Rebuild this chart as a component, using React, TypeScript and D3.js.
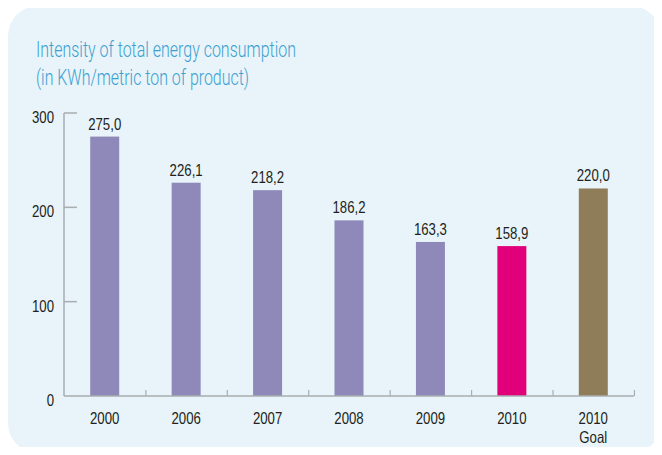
import { useEffect, useRef } from "react";
import * as d3 from "d3";

// chart data
const categories = ["2000", "2006", "2007", "2008", "2009", "2010", "2010 Goal"];
const values = [275.0, 226.1, 218.2, 186.2, 163.3, 158.9, 220.0];
const barColors = ["#8e89b9", "#8e89b9", "#8e89b9", "#8e89b9", "#8e89b9", "#e2007a", "#8f7c58"];
const yTicks = [0, 100, 200, 300];
const titleLines = ["Intensity of total energy consumption", "(in KWh/metric ton of product)"];

const W = 662;
const H = 455;
const FONT = "'Liberation Sans', Arial, sans-serif";
const SQUEEZE = 0.8; // reference uses a condensed face

// squeeze text horizontally, since no condensed font is at hand
function condense(sel: d3.Selection<any, any, any, any>) {
  sel.each(function (this: SVGTextContentElement) {
    const len = this.getComputedTextLength();
    d3.select(this)
      .attr("textLength", len * SQUEEZE)
      .attr("lengthAdjust", "spacingAndGlyphs");
  });
}

export default function App() {
  const ref = useRef<SVGSVGElement>(null);

  useEffect(() => {
    const svg = d3.select(ref.current);
    svg.selectAll("*").remove();

    // background panel
    svg.append("rect")
      .attr("x", 8).attr("y", 6)
      .attr("width", 653).attr("height", 447)
      .attr("rx", 30).attr("ry", 30)
      .attr("fill", "#e8f4f9");

    // title
    const titleLen = [260, 213];
    svg.append("g")
      .selectAll("text")
      .data(titleLines)
      .join("text")
      .attr("x", 36)
      .attr("y", (d, i) => 56.5 + i * 28.5)
      .attr("textLength", (d, i) => titleLen[i])
      .attr("lengthAdjust", "spacingAndGlyphs")
      .attr("font-family", "Roboto, 'Liberation Sans', sans-serif")
      .attr("font-weight", 300)
      .attr("font-size", 21.5)
      .attr("fill", "#3b9fd2")
      .text((d) => d);

    const x = d3.scaleBand<string>()
      .domain(categories)
      .range([64, 634])
      .paddingInner(0.644)
      .paddingOuter(0.322);

    const y = d3.scaleLinear().domain([0, 300]).range([396, 113]);

    const axisColor = "#a9aeb1";
    const step = x.step();

    // y axis line + ticks pointing inward
    svg.append("line")
      .attr("x1", 64).attr("x2", 64)
      .attr("y1", y(300)).attr("y2", y(0))
      .attr("stroke", axisColor).attr("stroke-width", 1.5);
    svg.append("g")
      .selectAll("line")
      .data(yTicks.filter((t) => t > 0))
      .join("line")
      .attr("x1", 64).attr("x2", 77)
      .attr("y1", (d) => y(d)).attr("y2", (d) => y(d))
      .attr("stroke", axisColor).attr("stroke-width", 1.5);
    svg.append("g")
      .selectAll("text")
      .data(yTicks)
      .join("text")
      .attr("x", 54)
      .attr("y", (d) => y(d) + 10)
      .attr("text-anchor", "end")
      .attr("font-family", FONT)
      .attr("font-size", 16.5)
      .attr("fill", "#231f20")
      .text((d) => d)
      .call(condense);

    // bars
    svg.append("g")
      .selectAll("rect")
      .data(values)
      .join("rect")
      .attr("x", (d, i) => x(categories[i])!)
      .attr("y", (d) => y(d))
      .attr("width", x.bandwidth())
      .attr("height", (d) => y(0) - y(d))
      .attr("fill", (d, i) => barColors[i]);

    // x axis line + ticks between bands
    svg.append("line")
      .attr("x1", 64).attr("x2", 634)
      .attr("y1", y(0)).attr("y2", y(0))
      .attr("stroke", axisColor).attr("stroke-width", 1.5);
    svg.append("g")
      .selectAll("line")
      .data(categories)
      .join("line")
      .attr("x1", (d) => x(d)! - x.bandwidth() * 0.889 + step)
      .attr("x2", (d) => x(d)! - x.bandwidth() * 0.889 + step)
      .attr("y1", y(0) - 6).attr("y2", y(0))
      .attr("stroke", axisColor).attr("stroke-width", 1.2);

    // category labels (second word on its own line)
    svg.append("g")
      .selectAll("text")
      .data(categories)
      .join("text")
      .attr("x", (d) => x(d)! + x.bandwidth() / 2)
      .attr("y", 424)
      .attr("text-anchor", "middle")
      .attr("font-family", FONT)
      .attr("font-size", 16.5)
      .attr("fill", "#231f20")
      .each(function (d) {
        const parts = d.split(" ");
        d3.select(this).selectAll("tspan")
          .data(parts)
          .join("tspan")
          .attr("x", x(d)! + x.bandwidth() / 2)
          .attr("dy", (p, j) => (j === 0 ? 0 : 18.5))
          .text((p) => p)
          .call(condense);
      });

    // value labels
    svg.append("g")
      .selectAll("text")
      .data(values)
      .join("text")
      .attr("x", (d, i) => x(categories[i])! + x.bandwidth() / 2)
      .attr("y", (d) => y(d) - 7)
      .attr("text-anchor", "middle")
      .attr("font-family", FONT)
      .attr("font-size", 16.5)
      .attr("fill", "#231f20")
      .text((d) => d.toFixed(1).replace(".", ","))
      .call(condense);
  }, []);

  return (
    <div style={{ width: W, height: H, margin: -8 }}>
      <svg ref={ref} width={W} height={H} style={{ display: "block" }} />
    </div>
  );
}
